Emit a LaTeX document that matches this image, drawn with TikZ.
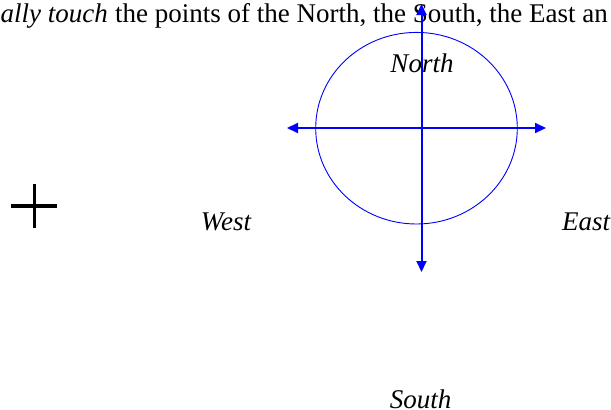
\documentclass[tikz,border=0pt]{standalone}
\usepackage{fontspec}
\setmainfont{Liberation Serif}
\usetikzlibrary{arrows.meta,shapes.geometric}
\definecolor{pureblue}{RGB}{0,0,255}
\tikzset{
  lbl/.style={inner sep=0pt, anchor=base, font=\fontsize{27}{32}\selectfont\itshape},
  axis/.style={draw=pureblue, line width=2pt, -{Triangle[length=11pt,width=10pt]}},
  ring/.style={draw=pureblue, line width=0.9pt},
  plusbar/.style={draw=black, line width=3.8pt}
}
\begin{document}
\begin{tikzpicture}[x=1pt,y=-1pt]
\useasboundingbox (0,0) rectangle (611,410);
% top text line
\node[inner sep=0pt, anchor=base east, font=\fontsize{27}{32}\selectfont\itshape] (t1) at (108,22) {ally touch};
\node[inner sep=0pt, anchor=base west, font=\fontsize{27}{32}\selectfont] (t2) at (115,22) {the points of the North, the South, the East an};
% ellipse
\node[ring, ellipse, minimum width=201.6pt, minimum height=191.6pt, inner sep=0pt] (c) at (416.5,128.2) {};
% axes
\coordinate (o) at (421.5,128);
\coordinate (wt) at (287,128);
\coordinate (et) at (546,128);
\coordinate (nt) at (421.5,4);
\coordinate (st) at (421.5,272);
\draw[axis] (o) -- (wt);
\draw[axis] (o) -- (et);
\draw[axis] (o) -- (nt);
\draw[axis] (o) -- (st);
% labels
\node[lbl] (north) at (422,72) {North};
\node[lbl] (south) at (420.5,408) {South};
\node[lbl] (west) at (226,230) {West};
\node[lbl] (east) at (586,230) {East};
% plus sign
\coordinate (pl) at (11,205.8);
\coordinate (pr) at (57,205.8);
\coordinate (pt) at (34.5,184);
\coordinate (pb) at (34.5,228.3);
\draw[plusbar] (pl) -- (pr);
\draw[plusbar] (pt) -- (pb);
\end{tikzpicture}
\end{document}
